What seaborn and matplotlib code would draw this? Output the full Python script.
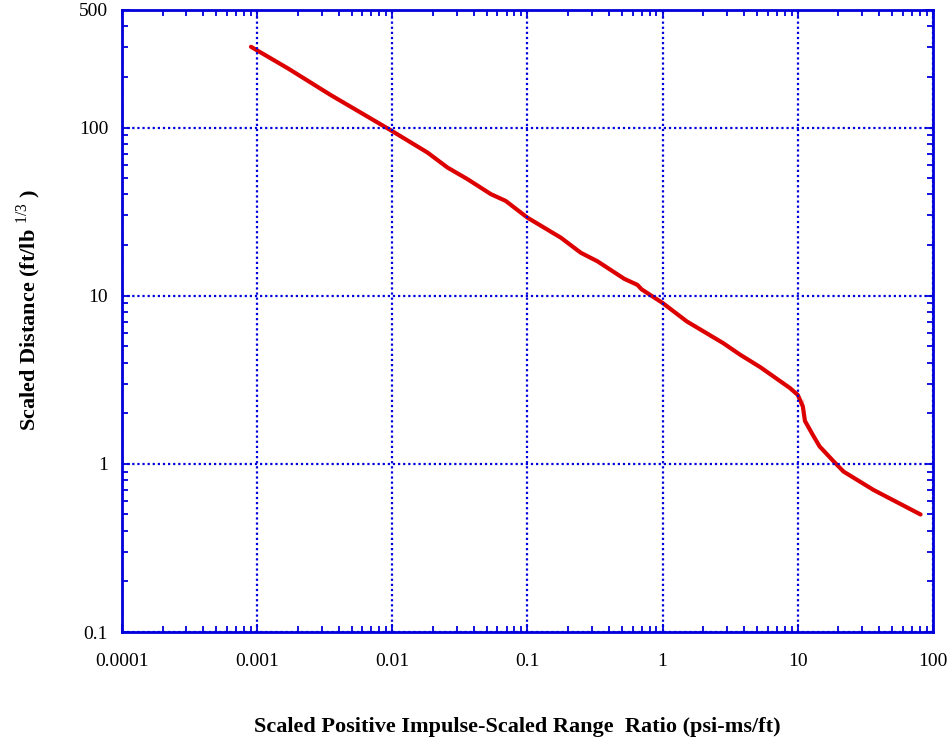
import matplotlib
matplotlib.use("Agg")
import matplotlib.pyplot as plt
import matplotlib.ticker as mticker
import seaborn as sns
import pandas as pd

# curve (log-log)
impulse = [0.0009, 0.0017, 0.0035, 0.0058, 0.0098, 0.0182, 0.0256, 0.036,
           0.0535, 0.069, 0.1, 0.177, 0.248, 0.33, 0.52, 0.65, 0.70, 1.0,
           1.51, 2.81, 3.74, 5.3, 8.77, 10.0, 10.9, 10.9, 11.3, 12.9,
           14.5, 18.3, 21.8, 36.3, 81.0]
distance = [302, 224, 156, 123, 96, 71, 57.8, 49.3,
            40.2, 36.6, 29.1, 22.1, 18.0, 16.0, 12.6, 11.6, 10.9, 9.05,
            7.03, 5.22, 4.46, 3.75, 2.82, 2.57, 2.43, 1.96, 1.80, 1.49,
            1.27, 1.04, 0.90, 0.70, 0.50]

x_ticks = [0.0001, 0.001, 0.01, 0.1, 1, 10, 100]
x_labels = ["0.0001", "0.001", "0.01", "0.1", "1", "10", "100"]
y_ticks = [0.1, 1, 10, 100, 500]
y_labels = ["0.1", "1", "10", "100", "500"]

df = pd.DataFrame({"impulse": impulse, "distance": distance})

sns.set_theme(style="white")
plt.rcParams["font.family"] = ["Liberation Serif", "DejaVu Serif"]
plt.rcParams["mathtext.fontset"] = "custom"
plt.rcParams["mathtext.rm"] = "Liberation Serif"
plt.rcParams["mathtext.bf"] = "Liberation Serif:bold"
plt.rcParams["text.color"] = "black"
plt.rcParams["axes.labelcolor"] = "black"

blue = "#0000dd"

fig = plt.figure(figsize=(9.51, 7.44), dpi=100)
ax = fig.add_axes([0.1283, 0.1505, 0.8527, 0.8361])

sns.lineplot(data=df, x="impulse", y="distance", color="#dd0000",
             linewidth=3, sort=False, ax=ax)

ax.set_xscale("log")
ax.set_yscale("log")
ax.set_xlim(0.0001, 100)
ax.set_ylim(0.1, 500)

ax.set_xticks(x_ticks)
ax.set_xticklabels(x_labels)
ax.set_yticks(y_ticks)
ax.set_yticklabels(y_labels)
ax.xaxis.set_minor_locator(mticker.LogLocator(base=10, subs=range(2, 10)))
ax.yaxis.set_minor_locator(mticker.LogLocator(base=10, subs=range(2, 10)))
ax.xaxis.set_minor_formatter(mticker.NullFormatter())
ax.yaxis.set_minor_formatter(mticker.NullFormatter())

ax.tick_params(which="both", direction="in", color=blue, top=True, right=True,
               bottom=True, left=True, labelsize=14, labelcolor="black")
ax.tick_params(axis="x", which="major", length=6, width=1.3, pad=15)
ax.tick_params(axis="y", which="major", length=6, width=1.3, pad=10)
ax.tick_params(which="minor", length=4, width=1.3)

for s in ax.spines.values():
    s.set_color(blue)
    s.set_linewidth(2)

ax.grid(True, which="major", color=blue, linestyle=(0, (1, 1.3)), linewidth=1.6)
ax.set_axisbelow(False)

ax.set_xlabel("Scaled Positive Impulse-Scaled Range  Ratio (psi-ms/ft)",
              fontsize=16, fontweight="bold", color="black")
ax.set_ylabel(r"Scaled Distance (ft/lb $^{\mathrm{1/3}}$ )",
              fontsize=16, fontweight="bold", color="black")
ax.xaxis.set_label_coords(0.488, -0.137)
ax.yaxis.set_label_coords(-0.097, 0.518)

fig.savefig("out.png", dpi=100)
